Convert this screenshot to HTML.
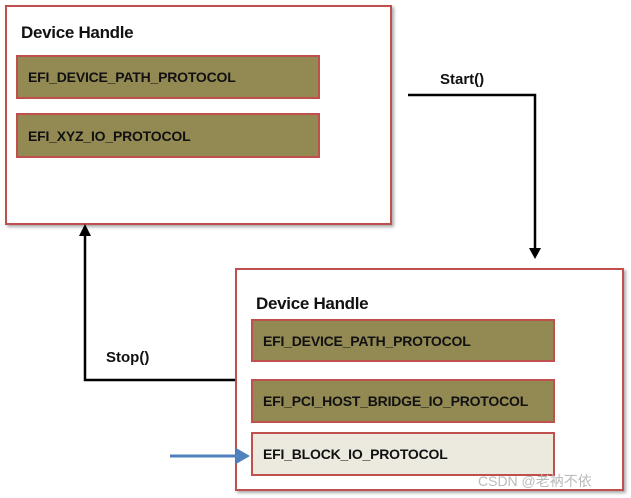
<!DOCTYPE html>
<html><head><style>
body{margin:0;width:631px;height:498px;background:#fff;position:relative;overflow:hidden;font-family:"Liberation Sans","Noto Sans CJK SC",sans-serif}
.b{position:absolute;box-sizing:border-box}
.out{border:2px solid #c0504d;background:#fff;box-shadow:2px 2px 3px #aaa}
.in{border:2px solid #c0504d;background:#938953;font-weight:bold;font-size:14px;color:#111;padding-left:10px;display:flex;align-items:center;letter-spacing:-0.2px}
.t{position:absolute;font-weight:bold;font-size:17px;color:#111;letter-spacing:-0.3px}
.l{position:absolute;font-weight:bold;font-size:15px;color:#111}
</style></head><body>
<div class="b out" style="left:5px;top:5px;width:387px;height:220px"></div>
<div class="t" style="left:21px;top:23px">Device Handle</div>
<div class="b in" style="left:16px;top:55px;width:304px;height:44px">EFI_DEVICE_PATH_PROTOCOL</div>
<div class="b in" style="left:16px;top:113px;width:304px;height:45px">EFI_XYZ_IO_PROTOCOL</div>
<div class="b out" style="left:235px;top:268px;width:389px;height:223px"></div>
<div class="t" style="left:256px;top:294px">Device Handle</div>
<div class="b in" style="left:251px;top:319px;width:304px;height:43px">EFI_DEVICE_PATH_PROTOCOL</div>
<div class="b in" style="left:251px;top:379px;width:304px;height:44px">EFI_PCI_HOST_BRIDGE_IO_PROTOCOL</div>
<div class="b in" style="left:251px;top:432px;width:304px;height:44px;background:#ece9df">EFI_BLOCK_IO_PROTOCOL</div>
<div class="l" style="left:440px;top:71px">Start()</div>
<div class="l" style="left:106px;top:349px">Stop()</div>
<div style="position:absolute;left:478px;top:471px;font-size:14px;color:#bbb">CSDN @老衲不依</div>
<svg width="631" height="498" style="position:absolute;left:0;top:0">
<polyline points="408,95 535,95 535,250" fill="none" stroke="#000" stroke-width="2.5"/>
<polygon points="529,248 541,248 535,259" fill="#000"/>
<polyline points="235,380 85,380 85,233" fill="none" stroke="#000" stroke-width="2.5"/>
<polygon points="79,236 91,236 85,224" fill="#000"/>
<line x1="170" y1="456" x2="240" y2="456" stroke="#4f81bd" stroke-width="3"/>
<polygon points="236,448 250,456 236,464" fill="#4f81bd"/>
</svg>
</body></html>
